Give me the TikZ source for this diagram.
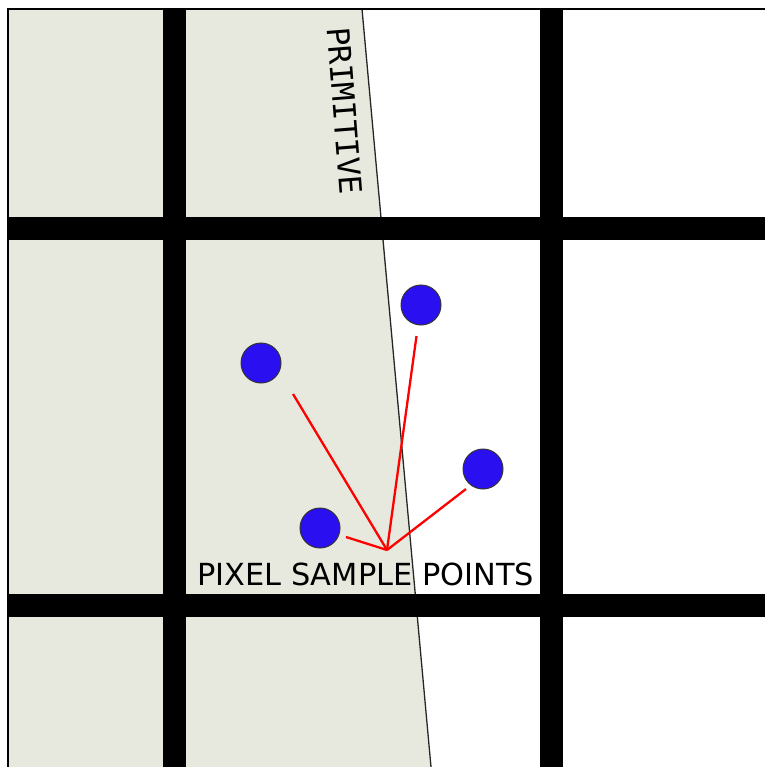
\documentclass[tikz,border=0pt]{standalone}
\usepackage{fontspec}
\newfontfamily\labelfont{DejaVu Sans}
\newfontfamily\primfont{DejaVu Sans Mono}
\definecolor{primfill}{RGB}{232,233,222}
\definecolor{dotblue}{RGB}{42,16,240}
\tikzset{
  gridbar/.style={fill=black},
  sampledot/.style={circle, draw=black!80, line width=1pt, fill=dotblue, minimum size=40pt, inner sep=0pt},
  ray/.style={red, line width=2.3pt},
  edgeline/.style={black!85, line width=1.3pt},
}
\begin{document}
\begin{tikzpicture}[x=1pt,y=-1pt]
\useasboundingbox (0,0) rectangle (765,767);
% primitive
\fill[primfill] (8,9) -- (362,9) -- (431,767) -- (8,767) -- cycle;
\coordinate (et) at (362,9);
\coordinate (eb) at (431,767);
\draw[edgeline] (et) -- (eb);
% grid
\fill[gridbar] (163,9) rectangle (186,767);
\fill[gridbar] (539.5,9) rectangle (562.5,767);
\fill[gridbar] (8,217) rectangle (765,239.5);
\fill[gridbar] (8,594) rectangle (765,617);
% border
\coordinate (bl) at (8,767);
\coordinate (tl) at (8,9);
\coordinate (tr) at (765,9);
\draw[line width=2.5pt] (bl) -- (tl) -- (tr);
% labels
\node[font=\primfont\fontsize{31}{31}\selectfont, rotate=-85.5, inner sep=0pt, anchor=center] (prim) at (344.5,111) {PRIMITIVE};
\node[font=\labelfont\fontsize{30.4}{30.4}\selectfont, inner sep=0pt, anchor=base west] (lab) at (197,585) {PIXEL SAMPLE POINTS};
% sample dots
\node[sampledot] (d1) at (261,363) {};
\node[sampledot] (d2) at (421,305) {};
\node[sampledot] (d3) at (483,469) {};
\node[sampledot] (d4) at (320,528) {};
% rays
\coordinate (hub) at (387,550);
\coordinate (r1) at (293,394);
\coordinate (r2) at (416.5,336);
\coordinate (r3) at (466,489);
\coordinate (r4) at (346,537);
\draw[ray] (hub) -- (r1);
\draw[ray] (hub) -- (r2);
\draw[ray] (hub) -- (r3);
\draw[ray] (hub) -- (r4);
\end{tikzpicture}
\end{document}
